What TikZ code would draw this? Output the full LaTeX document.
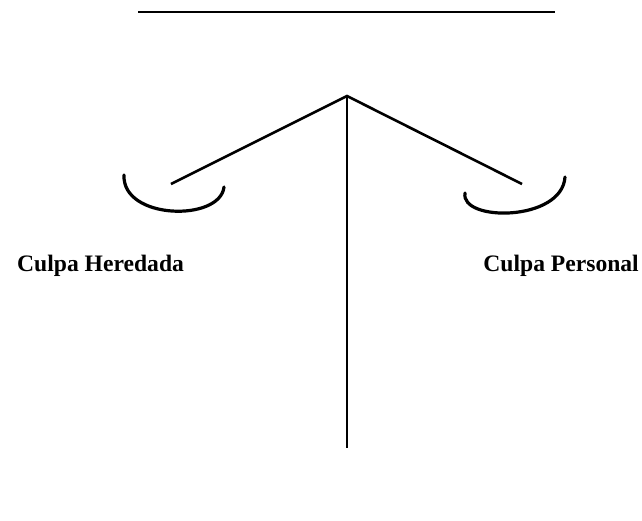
\documentclass[tikz,border=0pt]{standalone}
\usepackage{fontspec}
\setmainfont{Liberation Serif}

\begin{document}
\begin{tikzpicture}[x=1pt,y=-1pt,
    bar/.style={line width=2.6pt},
    pan/.style={line width=3.2pt, line cap=round},
    plate/.style={inner sep=0pt, font=\fontsize{23.6}{28}\selectfont\bfseries}]
    \useasboundingbox (0,0) rectangle (642,520);

    % Points
    \coordinate (topL) at (138,12);
    \coordinate (topR) at (555,12);
    \coordinate (apex) at (347,96);
    \coordinate (foot) at (347,448);
    \coordinate (armL) at (171,184);
    \coordinate (armR) at (522,184);

    % Beam and post
    \draw[bar] (topL) -- (topR);
    \draw[bar] (apex) -- (foot);
    \draw[bar] (armL) -- (apex) -- (armR);

    % Pans
    \draw[pan] (124,175) .. controls (122,220) and (220,222) .. (224,187);
    \draw[pan] (465,193) .. controls (460,222) and (562,222) .. (565,177);

    % Labels
    \node[plate, anchor=base west] (heredada) at (17,271) {Culpa Heredada};
    \node[plate, anchor=base east] (personal) at (639,271) {Culpa Personal};
\end{tikzpicture}
\end{document}
